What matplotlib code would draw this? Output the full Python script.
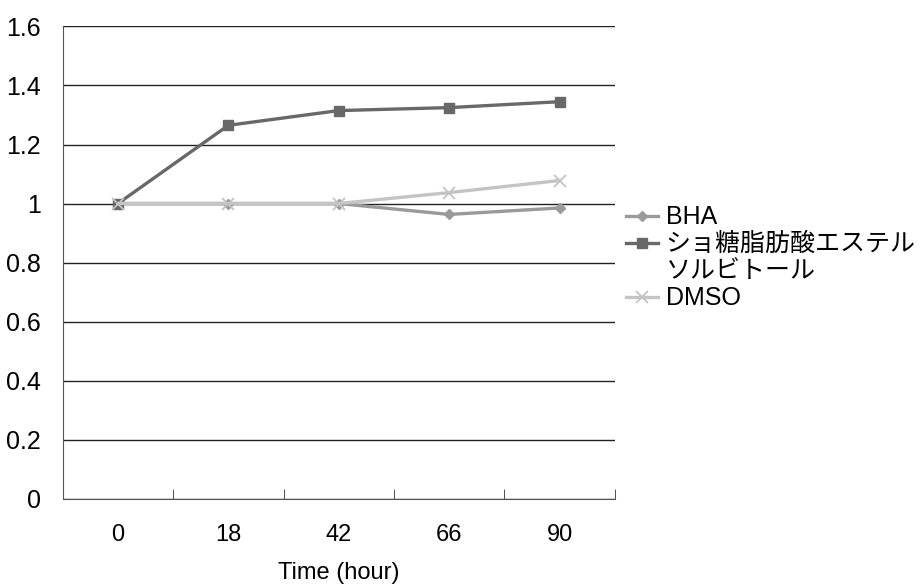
import matplotlib
matplotlib.use("Agg")
import numpy as np
from matplotlib import pyplot as plt
from matplotlib.lines import Line2D

plt.rcParams['font.family'] = ['Liberation Sans', 'Noto Sans CJK JP', 'DejaVu Sans']

hours = ['0', '18', '42', '66', '90']
bha = [1.0, 1.0, 1.0, 0.963, 0.985]
sucrose = [1.0, 1.265, 1.315, 1.325, 1.345]
dmso = [1.0, 1.0, 1.0, 1.037, 1.078]
labels = ['BHA', 'ショ糖脂肪酸エステル', 'ソルビトール', 'DMSO']

fig = plt.figure(figsize=(9.23, 5.88), dpi=100)
ax = fig.add_axes([0.068, 0.152, 0.598, 0.803])
x = np.arange(len(hours))

l1, = ax.plot(x, bha, color='#9a9a9a', lw=2.4, marker='D', ms=5)
l2, = ax.plot(x, sucrose, color='#686868', lw=2.4, marker='s', ms=7)
l3, = ax.plot(x, dmso, color='#c4c4c4', lw=2.4, marker='x', ms=8, mew=1.3)
blank = Line2D([], [], color='none')  # wrapped second line of the label

ax.set_ylim(0, 1.6)
ax.set_yticks(np.arange(0, 1.61, 0.2))
ax.set_yticklabels(['0', '0.2', '0.4', '0.6', '0.8', '1', '1.2', '1.4', '1.6'])
ax.yaxis.grid(True, color='#222222', lw=1)
ax.set_axisbelow(True)
ax.tick_params(axis='y', length=0, labelsize=18, pad=16)

ax.set_xlim(-0.5, 4.5)
ax.set_xticks(x)
ax.set_xticklabels(hours)
ax.set_xticks(x + 0.5, minor=True)
ax.tick_params(axis='x', which='major', length=0, labelsize=17, pad=18)
ax.tick_params(axis='x', which='minor', direction='in', length=7, color='#333333')
ax.set_xlabel('Time (hour)', fontsize=17, labelpad=12)

for s in ['top', 'right']:
    ax.spines[s].set_visible(False)
ax.spines['left'].set_color('#555555')
ax.spines['bottom'].set_color('#555555')

ax.legend([l1, l2, blank, l3], labels, loc='center left', bbox_to_anchor=(1.02, 0.51),
          frameon=False, fontsize=18, handlelength=1.3, handletextpad=0.3,
          labelspacing=0.12, borderpad=0, borderaxespad=0)

fig.savefig('out.png', dpi=100)
